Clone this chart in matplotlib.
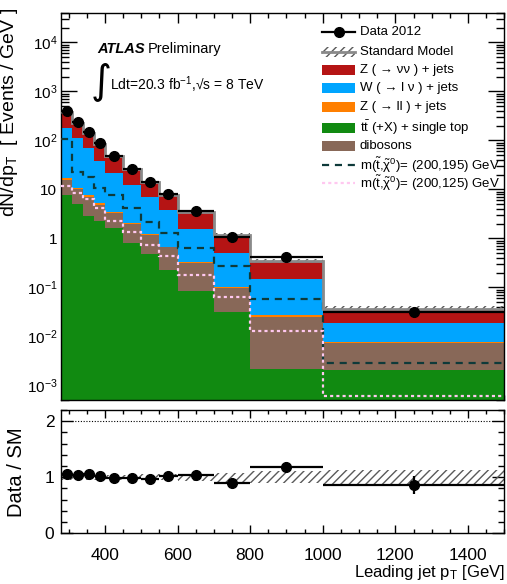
import matplotlib
matplotlib.use("Agg")
import matplotlib.pyplot as plt
import numpy as np
from matplotlib.patches import Rectangle
from matplotlib.lines import Line2D
from matplotlib.ticker import MultipleLocator, LogLocator, NullFormatter

# ---------------- data ----------------
bin_edges = [280, 310, 340, 370, 400, 450, 500, 550, 600, 700, 800, 1000, 1500]

data_2012 = [402, 240, 148, 87, 48, 26, 13.9, 7.9, 3.66, 1.08, 0.41, 0.031]
data_rel_err = [0.005, 0.006, 0.008, 0.01, 0.01, 0.013, 0.018, 0.025, 0.03, 0.05, 0.065, 0.18]

ttbar_singletop = [7.7, 5.0, 2.85, 2.3, 1.6, 0.81, 0.49, 0.225, 0.084, 0.032, 0.00215, 0.00205]
dibosons = [7.8, 5.0, 4.2, 2.55, 1.64, 1.12, 0.68, 0.43, 0.234, 0.066, 0.023, 0.0054]
z_ll_jets = [1.3, 0.8, 0.59, 0.33, 0.16, 0.09, 0.05, 0.019, 0.015, 0.0048, 0.0017, 0.00036]
w_lnu_jets = [164, 99, 61, 32.6, 17.8, 10.2, 5.84, 3.1, 1.2, 0.39, 0.121, 0.0106]
z_nunu_jets = [199, 121, 72, 46.7, 27.3, 14.1, 7.24, 3.97, 1.96, 0.70, 0.197, 0.0176]
sm_rel_unc = [0.045, 0.045, 0.045, 0.045, 0.045, 0.045, 0.05, 0.05, 0.06, 0.08, 0.11, 0.13]

signal_200_195 = [105, 23, 17.7, 10.8, 7.55, 4.21, 2.18, 1.28, 0.625, 0.272, 0.0577, 0.00289]
signal_200_125 = [11.7, 8.3, 6.25, 4.21, 2.29, 1.35, 0.72, 0.43, 0.176, 0.0634, 0.0128, 0.000614]

main_yticks = [1e-3, 1e-2, 1e-1, 1, 10, 1e2, 1e3, 1e4]
main_yticklabels = [r"$10^{-3}$", r"$10^{-2}$", r"$10^{-1}$", "1", "10",
                    r"$10^{2}$", r"$10^{3}$", r"$10^{4}$"]

legend_labels = [
    "Data 2012",
    "Standard Model",
    "Z ( → νν ) + jets",
    "W ( → l ν ) + jets",
    "Z ( → ll ) + jets",
    r"t$\bar{\mathrm{t}}$ (+X) + single top",
    "dibosons",
    r"m($\tilde{\mathrm{t}}$,$\tilde{\chi}^{0}$)= (200,195) GeV",
    r"m($\tilde{\mathrm{t}}$,$\tilde{\chi}^{0}$)= (200,125) GeV",
]

# ---------------- style ----------------
plt.rcParams["font.family"] = ["Liberation Sans", "DejaVu Sans"]
plt.rcParams["mathtext.fontset"] = "custom"
plt.rcParams["mathtext.rm"] = "Liberation Sans"
plt.rcParams["mathtext.it"] = "Liberation Sans:italic"
plt.rcParams["mathtext.bf"] = "Liberation Sans:bold"
plt.rcParams["mathtext.default"] = "regular"
plt.rcParams["hatch.color"] = "#5a5a5a"
plt.rcParams["hatch.linewidth"] = 1.0

C_ZNN = "#b51414"
C_WLN = "#00a5ff"
C_ZLL = "#ff7f00"
C_TOP = "#118a11"
C_VV = "#886858"
C_SIG1 = "#0e3a3a"
C_SIG2 = "#ffc8f0"
C_SMLINE = "#8a8a8a"
DASH1 = (0, (3.2, 2.6))
DASH2 = (0, (1.4, 1.4))

W, H = 507, 584
fig = plt.figure(figsize=(W / 100, H / 100), dpi=100)


def fx(px):
    return px / W


def fy(py):
    return 1 - py / H


def frac_box(x0, y0, x1, y1):
    return [fx(x0), fy(y1), (x1 - x0) / W, (y1 - y0) / H]


ax = fig.add_axes(frac_box(61.4, 13, 504.3, 400))
rax = fig.add_axes(frac_box(61.4, 410, 504.3, 533.3))

edges = np.array(bin_edges, dtype=float)
centers = 0.5 * (edges[1:] + edges[:-1])
half_w = 0.5 * (edges[1:] - edges[:-1])

components = [
    (ttbar_singletop, C_TOP),
    (dibosons, C_VV),
    (z_ll_jets, C_ZLL),
    (w_lnu_jets, C_WLN),
    (z_nunu_jets, C_ZNN),
]

# stacked backgrounds
bottom = np.full(len(centers), 1e-6)
for vals, col in components:
    top = bottom + np.array(vals)
    ax.stairs(top, edges, baseline=bottom, fill=True, facecolor=col,
              edgecolor="none", linewidth=0, zorder=2)
    bottom = top
sm_total = bottom

# signal lines
ax.stairs(signal_200_195, edges, baseline=None, color=C_SIG1, lw=1.6,
          linestyle=DASH1, zorder=3)
ax.stairs(signal_200_125, edges, baseline=None, color=C_SIG2, lw=1.6,
          linestyle=DASH2, zorder=3)

# SM uncertainty band and outline
unc = np.array(sm_rel_unc)
ax.stairs(sm_total * (1 + unc), edges, baseline=sm_total * (1 - unc), fill=True,
          facecolor="none", edgecolor="#5a5a5a", hatch="////", linewidth=0, zorder=4)
ax.stairs(sm_total, edges, baseline=None, color=C_SMLINE, lw=2.0, zorder=4)

# data
data = np.array(data_2012)
derr = data * np.array(data_rel_err)
ax.errorbar(centers, data, xerr=half_w, yerr=derr, fmt="o", color="black",
            ms=7, lw=1.6, capsize=0, zorder=6)

ax.set_yscale("log")
ax.set_xlim(280, 1500)
ax.set_ylim(5e-4, 4e4)
ax.set_yticks(main_yticks)
ax.set_yticklabels(main_yticklabels)
ax.yaxis.set_minor_locator(LogLocator(base=10, subs=np.arange(2, 10), numticks=30))
ax.yaxis.set_minor_formatter(NullFormatter())
ax.xaxis.set_major_locator(MultipleLocator(200))
ax.xaxis.set_minor_locator(MultipleLocator(50))
ax.tick_params(axis="x", which="both", direction="in", top=True, bottom=True,
               labelbottom=False)
ax.tick_params(axis="x", which="major", length=7.2, width=1.0)
ax.tick_params(axis="x", which="minor", length=3.6, width=1.0)
ax.tick_params(axis="y", which="both", direction="in", left=True, right=True,
               labelsize=11, pad=3)
ax.tick_params(axis="y", which="major", length=11.5, width=1.0)
ax.tick_params(axis="y", which="minor", length=5.8, width=1.0)
for s in ax.spines.values():
    s.set_linewidth(1.0)

# ratio panel
ratio = data / sm_total
rerr = ratio * np.array(data_rel_err)
rax.stairs(1 + unc, edges, baseline=1 - unc, fill=True, facecolor="none",
           edgecolor="#5a5a5a", hatch="////", linewidth=0, zorder=2)
rax.plot([310, 1470], [2, 2], color="black", lw=0.8, linestyle=(0, (1, 1.5)), zorder=1)
rax.errorbar(centers, ratio, xerr=half_w, yerr=rerr, fmt="o", color="black",
             ms=7, lw=1.6, capsize=0, zorder=5)
rax.set_xlim(280, 1500)
rax.set_ylim(0, 2.2)
rax.yaxis.set_major_locator(MultipleLocator(1))
rax.yaxis.set_minor_locator(MultipleLocator(0.2))
rax.xaxis.set_major_locator(MultipleLocator(200))
rax.xaxis.set_minor_locator(MultipleLocator(50))
rax.tick_params(axis="x", which="both", direction="in", top=True, bottom=True,
                labelsize=12.5, pad=10.5)
rax.tick_params(axis="x", which="major", length=5.8, width=1.0)
rax.tick_params(axis="x", which="minor", length=2.9, width=1.0)
rax.tick_params(axis="y", which="both", direction="in", left=True, right=True,
                labelsize=12.5, pad=5)
rax.tick_params(axis="y", which="major", length=8.6, width=1.0)
rax.tick_params(axis="y", which="minor", length=4.3, width=1.0)
for s in rax.spines.values():
    s.set_linewidth(1.0)

# axis titles
fig.text(fx(10), fy(8), r"dN/dp$_{\mathrm{T}}$  [ Events / GeV ]", rotation=90,
         ha="center", va="top", fontsize=14)
fig.text(fx(17), fy(472), "Data / SM", rotation=90, ha="center", va="center",
         fontsize=14.5)
fig.text(fx(505), fy(577), r"Leading jet p$_{\mathrm{T}}$ [GeV]", ha="right",
         va="baseline", fontsize=12)

# experiment labels
fig.text(fx(97), fy(53), "ATLAS", fontsize=10.5, fontweight="bold", style="italic")
fig.text(fx(148), fy(53), "Preliminary", fontsize=10.5)
fig.text(fx(91), fy(81), "∫", fontsize=29, va="center", ha="left",
         family=["DejaVu Sans"])
fig.text(fx(110), fy(90), r"Ldt=20.3 fb$^{-1}$,√s = 8 TeV", fontsize=10)

# legend, drawn row by row
row_y = [32, 52, 70, 88, 107, 128, 146, 165, 183]
sx0, sx1, tx = 322, 355, 360
box_h = 10
tf = fig.transFigure


def add_box(y, **kw):
    fig.patches.append(Rectangle((fx(sx0), fy(y + box_h / 2)), (sx1 - sx0) / W,
                                 box_h / H, transform=tf, **kw))


def add_line(y, **kw):
    fig.lines.append(Line2D([fx(sx0), fx(sx1)], [fy(y), fy(y)], transform=tf, **kw))


add_line(row_y[0], color="black", lw=1.6)
fig.lines.append(Line2D([fx((sx0 + sx1) / 2)], [fy(row_y[0])], transform=tf,
                        marker="o", ms=7, color="black", lw=0))
add_box(row_y[1], facecolor="white", edgecolor="#5a5a5a", hatch="////", lw=0)
add_line(row_y[1], color=C_SMLINE, lw=2.0)
for y, col in zip(row_y[2:7], [C_ZNN, C_WLN, C_ZLL, C_TOP, C_VV]):
    add_box(y, facecolor=col, edgecolor="none", lw=0)
add_line(row_y[7], color=C_SIG1, lw=1.6, linestyle=DASH1)
add_line(row_y[8], color=C_SIG2, lw=1.6, linestyle=DASH2)
for y, lab in zip(row_y, legend_labels):
    fig.text(fx(tx), fy(y), lab, fontsize=9.5, ha="left", va="center")

fig.savefig("out.png", dpi=100)
